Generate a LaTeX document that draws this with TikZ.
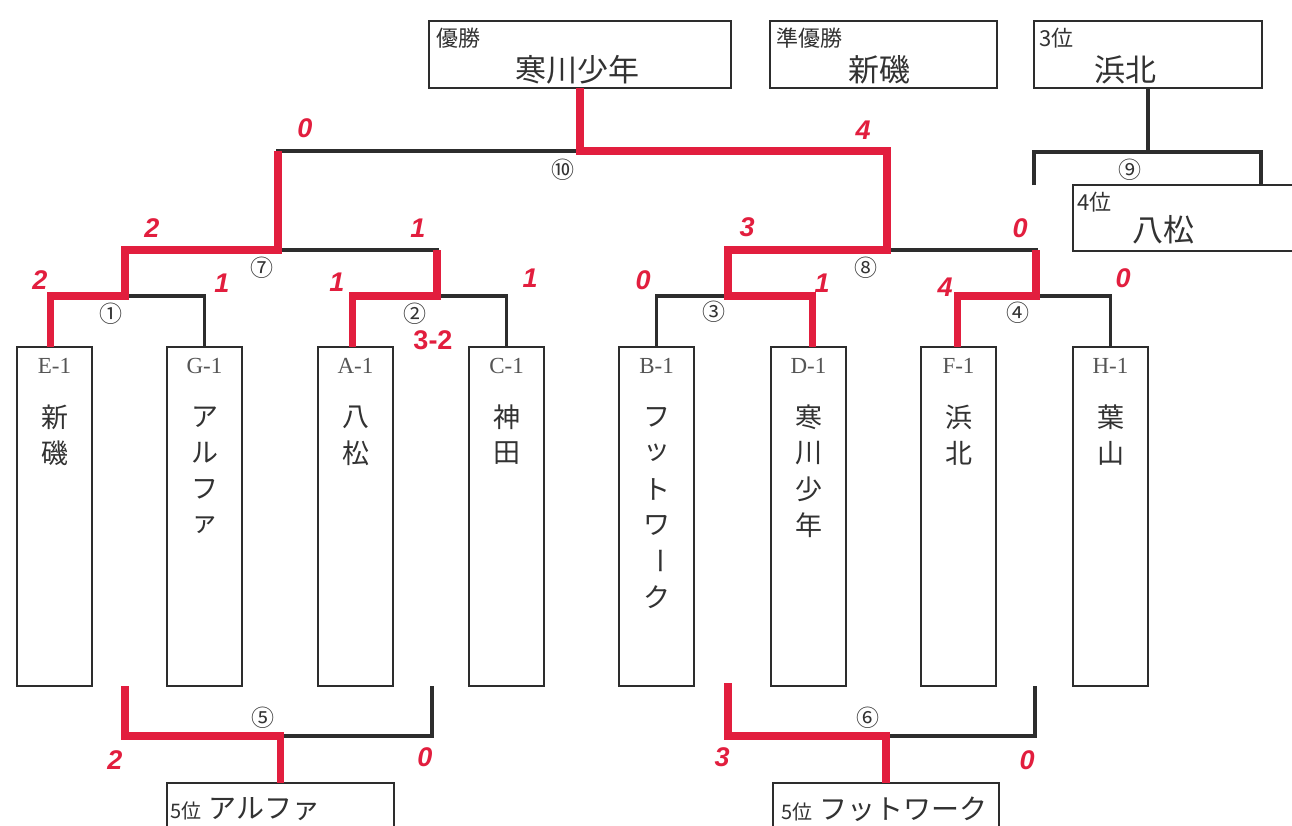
\documentclass[tikz,border=0pt]{standalone}
\usepackage{fontspec}
\setmainfont{Liberation Serif}
\newfontfamily\jp{Noto Sans CJK JP}
\newfontfamily\hand{Liberation Sans}
\usetikzlibrary{calc}
\definecolor{pen}{RGB}{226,30,62}
\definecolor{ink}{RGB}{45,45,45}
\definecolor{txt}{RGB}{50,50,50}
\definecolor{codec}{RGB}{85,85,85}
\newcommand\teamname[3]{\foreach \c [count=\i] in {#3} {\node[vch] (#1\i) at (#2,{381+36*\i}) {\c};}}
\begin{document}
\begin{tikzpicture}[x=1pt,y=-1pt,
 tbox/.style={draw=ink,line width=2.2pt,minimum width=75pt,minimum height=339pt,anchor=north west,inner sep=0pt,outer sep=0pt},
 rbox/.style={draw=ink,line width=2.2pt,anchor=north west,inner sep=0pt,outer sep=0pt},
 bl/.style={draw=ink,line width=3.2pt},
 rd/.style={draw=pen,line width=7.5pt},
 code/.style={text=codec,font=\fontsize{23}{23}\selectfont,inner sep=0pt},
 vch/.style={text=txt,font=\jp\fontsize{27}{27}\selectfont,inner sep=0pt},
 circ/.style={text=txt,font=\jp\fontsize{23}{23}\selectfont,inner sep=0pt},
 score/.style={text=pen,font=\hand\bfseries\itshape\fontsize{27}{27}\selectfont,inner sep=0pt},
 lab/.style={text=txt,font=\jp\fontsize{22}{22}\selectfont,inner sep=0pt,anchor=west},
 big/.style={text=txt,font=\jp\fontsize{31}{31}\selectfont,inner sep=0pt},
 place/.style={text=txt,font=\jp,inner sep=0pt,anchor=west}]
\clip (0,0) rectangle (1292,825);
\fill[white] (0,0) rectangle (1292,825);

% team boxes
\node[tbox] (E) at (17,347) {};
\node[tbox] (G) at (167,347) {};
\node[tbox] (A) at (318,347) {};
\node[tbox] (C) at (469,347) {};
\node[tbox] (B) at (619,347) {};
\node[tbox] (D) at (771,347) {};
\node[tbox] (F) at (921,347) {};
\node[tbox] (H) at (1073,347) {};

\node[code] (Ec) at ($(E.north)+(0,19)$) {E-1};
\node[code] (Gc) at ($(G.north)+(0,19)$) {G-1};
\node[code] (Ac) at ($(A.north)+(0,19)$) {A-1};
\node[code] (Cc) at ($(C.north)+(0,19)$) {C-1};
\node[code] (Bc) at ($(B.north)+(0,19)$) {B-1};
\node[code] (Dc) at ($(D.north)+(0,19)$) {D-1};
\node[code] (Fc) at ($(F.north)+(0,19)$) {F-1};
\node[code] (Hc) at ($(H.north)+(0,19)$) {H-1};

\teamname{En}{54.5}{新,磯}
\teamname{Gn}{204.5}{ア,ル,フ,ァ}
\teamname{An}{355.5}{八,松}
\teamname{Cn}{506.5}{神,田}
\teamname{Bn}{656.5}{フ,ッ,ト,ワ,{\rotatebox[origin=c]{-90}{ー}},ク}
\teamname{Dn}{808.5}{寒,川,少,年}
\teamname{Fn}{958.5}{浜,北}
\teamname{Hn}{1110.5}{葉,山}

% result boxes
\node[rbox,minimum width=302pt,minimum height=67pt] (champ) at (429,21) {};
\node[rbox,minimum width=227pt,minimum height=67pt] (second) at (770,21) {};
\node[rbox,minimum width=228pt,minimum height=67pt] (third) at (1034,21) {};
\node[rbox,minimum width=240pt,minimum height=66pt] (fourth) at (1073,185) {};
\node[rbox,minimum width=227pt,minimum height=60pt] (fifthA) at (167,783) {};
\node[rbox,minimum width=226pt,minimum height=60pt] (fifthB) at (773,783) {};

\node[lab] (champL) at (436,38) {優勝};
\node[big] (champN) at (577,70) {寒川少年};
\node[lab] (secondL) at (776,38) {準優勝};
\node[big] (secondN) at (879,70) {新磯};
\node[lab] (thirdL) at (1039,38) {3位};
\node[big] (thirdN) at (1125,70) {浜北};
\node[lab] (fourthL) at (1077,202) {4位};
\node[big] (fourthN) at (1163,230) {八松};
\node[place] (fifthAL) at (170,809) {{\fontsize{20}{20}\selectfont 5位}\hspace{7pt}{\fontsize{28}{28}\selectfont アルファ}};
\node[place] (fifthBL) at (781,809) {{\fontsize{20}{20}\selectfont 5位}\hspace{7pt}{\fontsize{28}{28}\selectfont フットワーク}};

% match points
\coordinate (m1) at (125,296);
\coordinate (m2) at (437,296);
\coordinate (m3) at (728,296);
\coordinate (m4) at (1036,296);
\coordinate (m7) at (278,250);
\coordinate (m8) at (887,250);
\coordinate (m10) at (580,151);
\coordinate (m9) at (1148,152);
\coordinate (l9) at (1034,185);
\coordinate (r9) at (1261,185);
\coordinate (l5) at (125,686);
\coordinate (r5) at (432,686);
\coordinate (m5) at (280.5,736);
\coordinate (l6) at (728,683);
\coordinate (r6) at (1035,686);
\coordinate (m6) at (886,736);

% black bracket
\draw[bl] ([xshift=-4pt]E.north) |- (m1) -| (G.north);
\draw[bl] ([xshift=-3pt]A.north) |- (m2) -| (C.north);
\draw[bl] (B.north) |- (m3) -| ([xshift=4pt]D.north);
\draw[bl] ([xshift=-1pt]F.north) |- (m4) -| (H.north);
\draw[bl] (m1) |- (m7) -| (m2);
\draw[bl] (m3) |- (m8) -| (m4);
\draw[bl] (m7) |- (m10) -| (m8);
\draw[bl] (m10) -- (champ.south);
\draw[bl] (third.south) -- (m9);
\draw[bl] (l9) |- (m9) -| (r9);
\draw[bl] (l5) |- (m5) -| (r5);
\draw[bl] (m5) -- (fifthA.north);
\draw[bl] (l6) |- (m6) -| (r6);
\draw[bl] (m6) -- (fifthB.north);

% red winning paths
\draw[rd] ([xshift=-4pt]E.north) |- (m1) |- (m7) -- (m7 |- m10);
\draw[rd] ([xshift=-3pt]A.north) |- (m2) -- (m2 |- m7);
\draw[rd] ([xshift=4pt]D.north) |- (m3) |- (m8) |- (m10) -- (champ.south);
\draw[rd] ([xshift=-1pt]F.north) |- (m4) -- (m4 |- m8);
\draw[rd] (l5) |- (m5) -- (fifthA.north);
\draw[rd] (l6) |- (m6) -- (fifthB.north);

% match numbers
\node[circ] (c1) at (111,314) {①};
\node[circ] (c2) at (415,314) {②};
\node[circ] (c3) at (714,312) {③};
\node[circ] (c4) at (1018,313) {④};
\node[circ] (c5) at (263,718) {⑤};
\node[circ] (c6) at (868,718) {⑥};
\node[circ] (c7) at (262,268) {⑦};
\node[circ] (c8) at (866,268) {⑧};
\node[circ] (c9) at (1130,170) {⑨};
\node[circ] (c10) at (563,170) {⑩};

% scores
\node[score] (s1) at (305,128) {0};
\node[score] (s2) at (863,130) {4};
\node[score] (s3) at (152,228) {2};
\node[score] (s4) at (418,228) {1};
\node[score] (s5) at (747,227) {3};
\node[score] (s6) at (1020,228) {0};
\node[score] (s7) at (40,280) {2};
\node[score] (s8) at (222,283) {1};
\node[score] (s9) at (337,282) {1};
\node[score] (s10) at (530,278) {1};
\node[score,font=\hand\bfseries\fontsize{27}{27}\selectfont] (s11) at (433,340) {3-2};
\node[score] (s12) at (643,280) {0};
\node[score] (s13) at (822,283) {1};
\node[score] (s14) at (945,287) {4};
\node[score] (s15) at (1123,278) {0};
\node[score] (s16) at (115,760) {2};
\node[score] (s17) at (425,757) {0};
\node[score] (s18) at (722,757) {3};
\node[score] (s19) at (1027,760) {0};
\end{tikzpicture}
\end{document}
